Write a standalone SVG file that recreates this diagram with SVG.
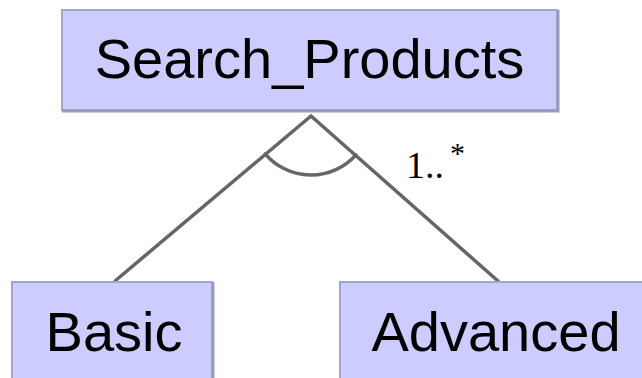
<svg xmlns="http://www.w3.org/2000/svg" width="642" height="378" viewBox="0 0 642 378">
<style>
.box{fill:#ccccff;stroke:#a4a4cc;stroke-width:2}
.shade{fill:none;stroke:#9a9abf;stroke-width:3}
.lbl{font-family:"Liberation Sans",Arial,sans-serif;font-size:56px;fill:#000}
.conn{fill:none;stroke:#666666;stroke-width:3.5;stroke-linecap:round;stroke-linejoin:miter}
.mult{font-family:"Liberation Serif","Times New Roman",serif;fill:#000}
</style>
<rect width="642" height="378" fill="#ffffff"/>
<g id="connectors">
<path class="conn" d="M115,281 L311,116 L498,281"/>
<path class="conn" d="M265.2,153.8 A60,60 0 0,0 355.9,154.8"/>
<text class="mult" x="406" y="178" font-size="38">1..</text>
<text class="mult" x="450" y="163" font-size="30">*</text>
</g>
<g id="search_products">
<rect class="box" x="62" y="10" width="495" height="100"/>
<path class="shade" d="M558,10 L558,111 L62,111"/>
<text class="lbl" x="309.5" y="78" text-anchor="middle">Search_Products</text>
</g>
<g id="basic">
<rect class="box" x="12" y="282" width="200" height="110"/>
<path class="shade" d="M213,282 L213,392"/>
<text class="lbl" x="114" y="351" text-anchor="middle">Basic</text>
</g>
<g id="advanced">
<rect class="box" x="340" y="282" width="320" height="110"/>
<text class="lbl" x="496" y="351" text-anchor="middle">Advanced</text>
</g>
</svg>
